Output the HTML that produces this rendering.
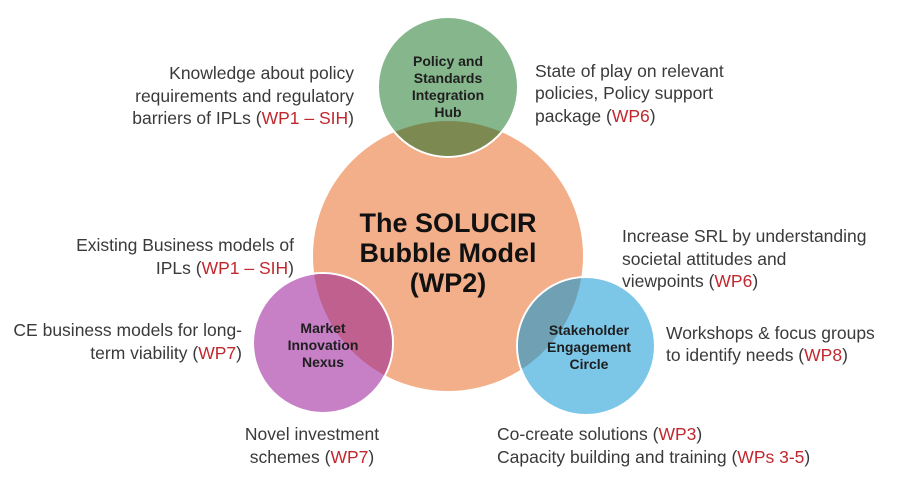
<!DOCTYPE html>
<html><head><meta charset="utf-8"><style>
html,body{margin:0;padding:0;background:#fff;}
svg{display:block;}
text{font-family:"Liberation Sans",sans-serif;}
.t{font-size:17.5px;fill:#3a3a3a;}
.r{fill:#c0282e;}
.c{font-size:14px;font-weight:bold;fill:#1e1e1e;}
.m{font-size:27px;font-weight:bold;fill:#111;}
</style></head><body>
<svg width="900" height="482" viewBox="0 0 900 482">
<defs>
<clipPath id="cm"><circle cx="448" cy="256" r="135"/></clipPath>
</defs>
<circle cx="448" cy="256" r="135" fill="#f3ae8a"/>
<circle cx="448" cy="87" r="70" fill="#86b68b" stroke="#fff" stroke-width="2"/>
<circle cx="323" cy="343" r="70" fill="#c77fc6" stroke="#fff" stroke-width="2"/>
<circle cx="586" cy="346" r="69" fill="#7cc6e8" stroke="#fff" stroke-width="2"/>
<g clip-path="url(#cm)">
<circle cx="448" cy="87" r="69" fill="#7c8a52"/>
<circle cx="323" cy="343" r="69" fill="#c0608e"/>
<circle cx="586" cy="346" r="68" fill="#6fa0b4"/>
</g>
<g class="c" text-anchor="middle">
<text x="448" y="66">Policy and</text>
<text x="448" y="83">Standards</text>
<text x="448" y="100">Integration</text>
<text x="448" y="117">Hub</text>
<text x="323" y="333">Market</text>
<text x="323" y="350">Innovation</text>
<text x="323" y="367">Nexus</text>
<text x="589" y="335">Stakeholder</text>
<text x="589" y="352">Engagement</text>
<text x="589" y="369">Circle</text>
</g>
<g class="m" text-anchor="middle">
<text x="448" y="232">The SOLUCIR</text>
<text x="448" y="262">Bubble Model</text>
<text x="448" y="292">(WP2)</text>
</g>
<g class="t" text-anchor="end">
<text x="354" y="79">Knowledge about policy</text>
<text x="354" y="102">requirements and regulatory</text>
<text x="354" y="124">barriers of IPLs (<tspan class="r">WP1 – SIH</tspan>)</text>
<text x="294" y="251">Existing Business models of</text>
<text x="294" y="274">IPLs (<tspan class="r">WP1 – SIH</tspan>)</text>
<text x="242" y="336">CE business models for long-</text>
<text x="242" y="359">term viability (<tspan class="r">WP7</tspan>)</text>
</g>
<g class="t" text-anchor="middle">
<text x="312" y="440">Novel investment</text>
<text x="312" y="463">schemes (<tspan class="r">WP7</tspan>)</text>
</g>
<g class="t">
<text x="535" y="77">State of play on relevant</text>
<text x="535" y="99">policies, Policy support</text>
<text x="535" y="122">package (<tspan class="r">WP6</tspan>)</text>
<text x="622" y="242">Increase SRL by understanding</text>
<text x="622" y="265">societal attitudes and</text>
<text x="622" y="287">viewpoints (<tspan class="r">WP6</tspan>)</text>
<text x="666" y="339">Workshops &amp; focus groups</text>
<text x="666" y="361">to identify needs (<tspan class="r">WP8</tspan>)</text>
<text x="497" y="440">Co-create solutions (<tspan class="r">WP3</tspan>)</text>
<text x="497" y="463">Capacity building and training (<tspan class="r">WPs 3-5</tspan>)</text>
</g>
</svg>
</body></html>
